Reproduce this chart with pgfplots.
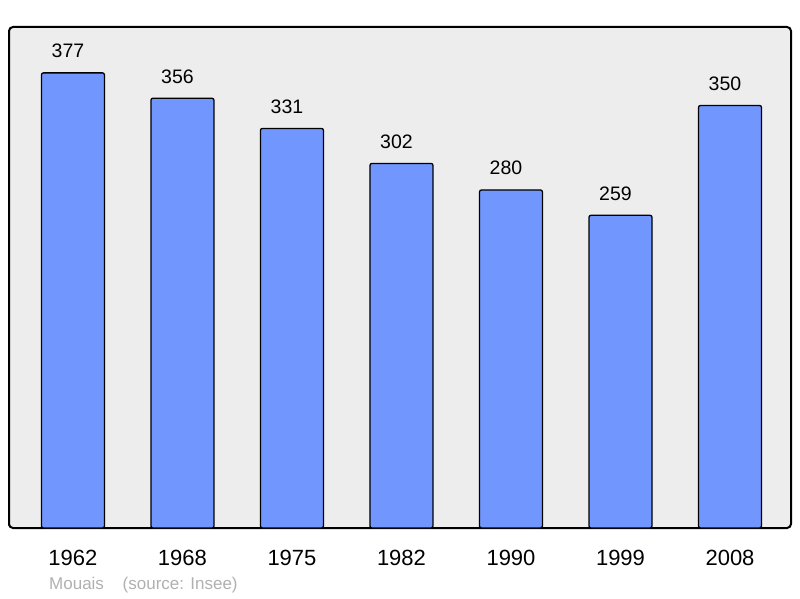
\documentclass[border=0pt]{standalone}
\usepackage{pgfplots}
\pgfplotsset{compat=1.18}
\usepackage{fontspec}
\setmainfont{Liberation Sans}
\definecolor{barblue}{RGB}{113,151,255}
\definecolor{panel}{RGB}{237,237,237}
\definecolor{srcgray}{RGB}{176,176,176}
\begin{document}
\begin{tikzpicture}[x=1pt,y=1pt]
	\path[use as bounding box] (-9,-70) rectangle (791,528);
	\begin{axis}[
		at={(0,0)}, anchor=south west,
		scale only axis,
		width=782pt, height=501pt,
		xmin=-0.584, xmax=6.557,
		ymin=0, ymax=415,
		ytick=\empty,
		xtick={0,1,2,3,4,5,6},
		xticklabels={1962,1968,1975,1982,1990,1999,2008},
		major tick length=0pt,
		xticklabel style={font=\fontsize{22}{24}\selectfont, anchor=base, inner sep=0pt, yshift=-37pt},
		axis background/.style={fill=panel, rounded corners=4pt},
		axis line style={line width=2pt, rounded corners=4pt},
		/pgf/number format/assume math mode=true,
		nodes near coords,
		every node near coord/.append style={font=\fontsize{19.5}{21}\selectfont, anchor=base, inner sep=0pt, yshift=15pt, xshift=-5pt, black},
	]
		\addplot[ybar, bar width=63pt, fill=barblue, draw=black, line width=1.3pt, rounded corners=2pt]
			coordinates {(0,377) (1,356) (2,331) (3,302) (4,280) (5,259) (6,350)};
	\end{axis}
	\node[anchor=base west, inner sep=0pt, text=srcgray, font=\fontsize{17}{19}\selectfont] at (40,-61) {Mouais\hspace{1.1em}(source: Insee)};
\end{tikzpicture}
\end{document}
